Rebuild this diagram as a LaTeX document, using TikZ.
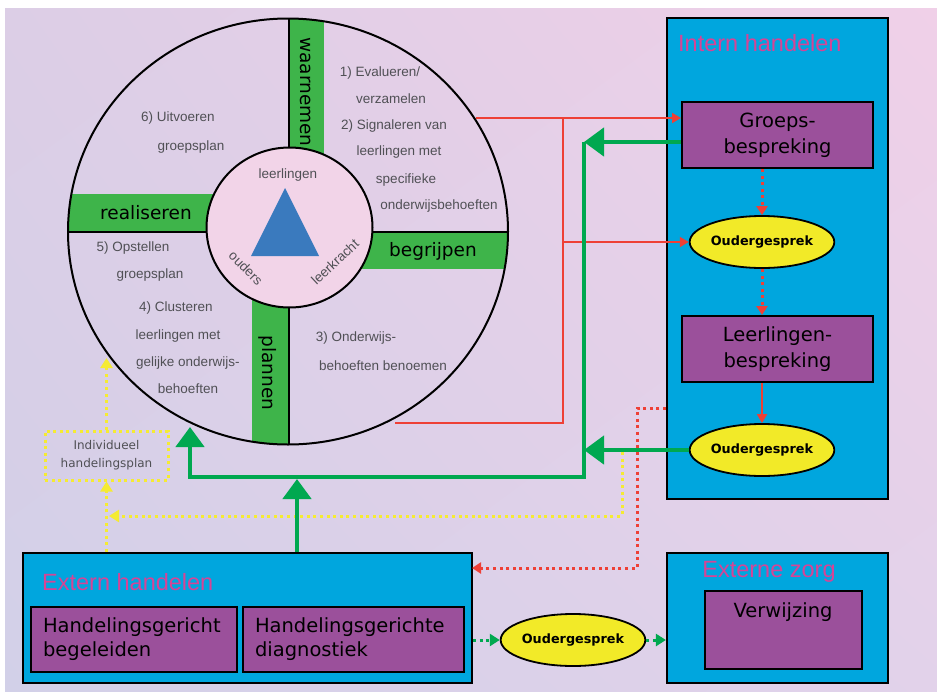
\documentclass[tikz,border=0pt]{standalone}
\usepackage{fontspec}
\setmainfont{Liberation Sans}
\newfontfamily\comicfont{DejaVu Sans}
\usetikzlibrary{shapes.geometric, arrows.meta, shadings}
\definecolor{bgul}{RGB}{220,206,230}
\definecolor{bgur}{RGB}{240,208,232}
\definecolor{bgll}{RGB}{210,208,232}
\definecolor{bglr}{RGB}{226,210,234}
\definecolor{bandgreen}{RGB}{62,180,74}
\definecolor{arrowgreen}{RGB}{0,168,80}
\definecolor{arrowred}{RGB}{238,64,54}
\definecolor{dotyellow}{RGB}{245,235,50}
\definecolor{boxcyan}{RGB}{0,166,222}
\definecolor{boxpurple}{RGB}{155,80,155}
\definecolor{talkyellow}{RGB}{242,234,40}
\definecolor{titlemagenta}{RGB}{214,68,150}
\definecolor{ringgray}{RGB}{80,80,85}
\definecolor{innerpink}{RGB}{242,212,232}
\definecolor{triblue}{RGB}{58,122,190}

\begin{document}
\begin{tikzpicture}[x=1pt, y=-1pt]
% Define styles
\tikzstyle{bigbox} = [rectangle, draw=black, line width=2.2pt, fill=boxcyan, inner sep=0pt]
\tikzstyle{talkbox} = [rectangle, draw=black, line width=2pt, fill=boxpurple, align=center, inner sep=0pt, font=\comicfont\fontsize{19.5}{26}\selectfont]
\tikzstyle{leftbox} = [talkbox, align=left, inner xsep=12pt, minimum height=65pt, font=\comicfont\fontsize{19.5}{24}\selectfont]
\tikzstyle{talk} = [ellipse, draw=black, line width=1.8pt, fill=talkyellow, inner sep=0pt, minimum width=130pt, minimum height=52pt, font=\comicfont\bfseries\fontsize{12.8}{14}\selectfont]
\tikzstyle{ringtext} = [text=ringgray, inner sep=0pt, font=\fontsize{13.5}{15}\selectfont]
\tikzstyle{bandtext} = [inner sep=0pt, font=\comicfont\fontsize{18.5}{20}\selectfont]
\tikzstyle{title} = [text=titlemagenta, inner sep=0pt, font=\fontsize{23.5}{26}\selectfont]
\tikzstyle{redarrow} = [draw=arrowred, line width=1.8pt, -{Triangle[width=10pt,length=9pt]}]
\tikzstyle{redline} = [draw=arrowred, line width=1.8pt]
\tikzstyle{reddots} = [draw=arrowred, line width=3pt, dash pattern=on 3pt off 3.6pt, -{Triangle[width=11pt,length=9pt]}]
\tikzstyle{greenarrow} = [draw=arrowgreen, line width=4.5pt, miter limit=4, -{Triangle[width=28pt,length=20pt]}]
\tikzstyle{greendots} = [draw=arrowgreen, line width=3pt, dash pattern=on 3pt off 3.6pt, -{Triangle[width=12pt,length=10pt]}]
\tikzstyle{yellowdots} = [draw=dotyellow, line width=3pt, dash pattern=on 3pt off 3.6pt, -{Triangle[width=12pt,length=10pt]}]
% Background
\useasboundingbox (0,0) rectangle (937,691);
\shade[upper left=bgul, upper right=bgur, lower left=bgll, lower right=bglr] (5,8) rectangle (937,691);
% Circle with the four bands
\begin{scope}
\clip (288,231.5) ellipse [x radius=220, y radius=213];
\fill[bandgreen] (289,0) rectangle (324,232);
\fill[bandgreen] (0,194) rectangle (289,232);
\fill[bandgreen] (289,232) rectangle (600,269);
\fill[bandgreen] (252,232) rectangle (289,500);
\draw[line width=1.6pt] (289,0) -- (289,500);
\draw[line width=1.6pt] (0,232) -- (600,232);
\end{scope}
\node (cycle) [ellipse, draw=black, line width=2pt, inner sep=0pt, minimum width=440pt, minimum height=426pt] at (288,231.5) {};
\node (core) [ellipse, draw=black, line width=2pt, fill=innerpink, inner sep=0pt, minimum width=166pt, minimum height=160pt] at (289.5,227.5) {};
\fill[triblue] (285,188) -- (319,256) -- (251,256) -- cycle;
\node (pupils) [ringtext] at (288,175) {leerlingen};
\node (parents) [ringtext, rotate=-45] at (246,268) {ouders};
\node (teacher) [ringtext, rotate=43] at (335,262) {leerkracht};
% Band labels
\node (observe) [bandtext, rotate=-90] at (306,92) {waarnemen};
\node (realise) [bandtext] at (146,213) {realiseren};
\node (grasp) [bandtext] at (433,251) {begrijpen};
\node (plan) [bandtext, rotate=-90] at (268,373) {plannen};
% Ring texts
\node (s6a) [ringtext] at (178,118) {6) Uitvoeren};
\node (s6b) [ringtext] at (191,147) {groepsplan};
\node (s1a) [ringtext] at (380,73) {1) Evalueren/};
\node (s1b) [ringtext] at (391,99) {verzamelen};
\node (s2a) [ringtext] at (394,126) {2) Signaleren van};
\node (s2b) [ringtext] at (399,152) {leerlingen met};
\node (s2c) [ringtext] at (406,180) {specifieke};
\node (s2d) [ringtext] at (439,206) {onderwijsbehoeften};
\node (s5a) [ringtext] at (133,248) {5) Opstellen};
\node (s5b) [ringtext] at (150,275) {groepsplan};
\node (s4a) [ringtext] at (176,308) {4) Clusteren};
\node (s4b) [ringtext] at (178,336) {leerlingen met};
\node (s4c) [ringtext] at (188,363) {gelijke onderwijs-};
\node (s4d) [ringtext] at (188,389) {behoeften};
\node (s3a) [ringtext] at (356,338) {3) Onderwijs-};
\node (s3b) [ringtext] at (383,366) {behoeften benoemen};
% Boxes
\node (intern) [bigbox, minimum width=221pt, minimum height=481pt] at (777.5,258.5) {};
\node (interntitle) [title, anchor=west] at (678,43) {Intern handelen};
\node (groeps) [talkbox, minimum width=191pt, minimum height=66pt] at (777.5,135) {Groeps-\\bespreking};
\node (ell1) [talk] at (762,242) {Oudergesprek};
\node (leerl) [talkbox, minimum width=191pt, minimum height=66pt] at (777.5,349) {Leerlingen-\\bespreking};
\node (ell2) [talk] at (762,450) {Oudergesprek};
\node (extern) [bigbox, minimum width=449pt, minimum height=130pt] at (247.5,618) {};
\node (externtitle) [title, anchor=west] at (42,582) {Extern handelen};
\node (begeleiden) [leftbox, text width=182pt] at (134,639.5) {Handelingsgericht\\begeleiden};
\node (diagnostiek) [leftbox, text width=197pt] at (353.5,639.5) {Handelingsgerichte\\diagnostiek};
\node (ell3) [talk] at (573,640) {Oudergesprek};
\node (zorg) [bigbox, minimum width=221pt, minimum height=130pt] at (777.5,618) {};
\node (zorgtitle) [title] at (769,572) {Externe zorg};
\node (verwijzing) [talkbox, minimum width=157pt, minimum height=78pt] at (783.5,630) {};
\node (verwtext) [inner sep=0pt, font=\comicfont\fontsize{19.5}{24}\selectfont] at (783,612) {Verwijzing};
\node (indiv) [rectangle, draw=dotyellow, line width=3pt, dash pattern=on 3pt off 3.6pt, minimum width=123pt, minimum height=49pt, inner sep=0pt, align=center, text=ringgray, font=\comicfont\fontsize{12}{18}\selectfont] at (106.5,455.5) {Individueel\\handelingsplan};
% Coordinates for the free ends
\coordinate (rtop) at (476,118);
\coordinate (rbot) at (395,423);
\coordinate (rjoin) at (563,118);
\coordinate (gtop) at (584,142);
\coordinate (gleft) at (190,477);
\coordinate (gtip) at (190,427);
\coordinate (gmid) at (297,479);
\coordinate (ytip) at (106.5,358);
\coordinate (ystart) at (622,452);
\coordinate (ymeet) at (109,516);
\coordinate (rdbend) at (637,408);
\coordinate (rdend) at (472,568);
% Draw arrows
\draw [redarrow] (rtop) -- (groeps.west |- rtop);
\draw [redline] (rbot) -| (rjoin);
\draw [redarrow] (rjoin |- ell1) -- (ell1.west);
\draw [reddots] (groeps.south -| ell1.north) -- (ell1.north);
\draw [reddots] (ell1.south) -- (leerl.north -| ell1.south);
\draw [redarrow] (leerl.south -| ell2.north) -- (ell2.north);
\draw [yellowdots] (ystart) |- (ymeet);
\draw [reddots] (intern.west |- rdbend) -- (rdbend) |- (rdend);
\draw [greenarrow] (groeps.west |- gtop) -- (gtop);
\draw [greenarrow] (ell2.west) -- (gtop |- ell2);
\draw [greenarrow] (gtop) |- (gleft) -- (gtip);
\draw [greenarrow] (extern.north -| gmid) -- (gmid);
\draw [yellowdots] (indiv.north) -- (ytip);
\draw [yellowdots] (extern.north -| indiv) -- (indiv.south);
\draw [greendots] (extern.east |- ell3) -- (ell3.west);
\draw [greendots] (ell3.east) -- (zorg.west |- ell3);
\end{tikzpicture}
\end{document}
